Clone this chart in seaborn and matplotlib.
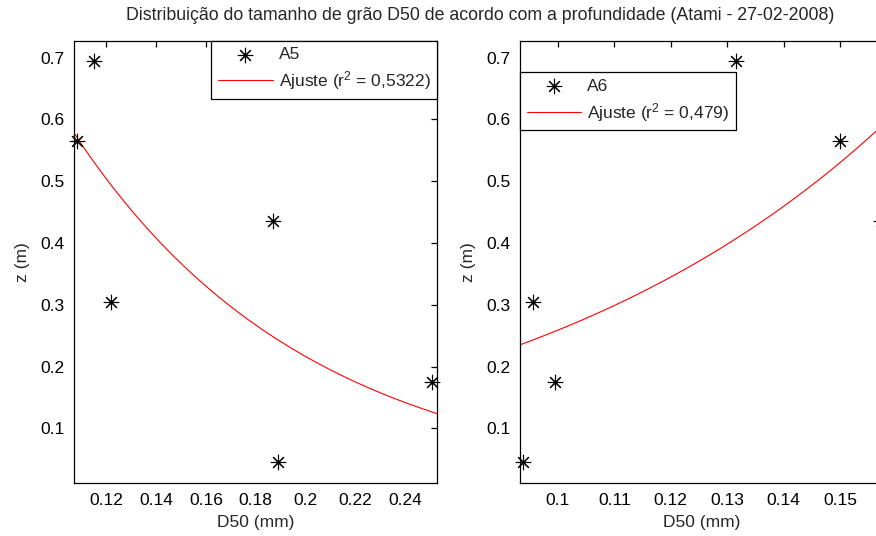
import numpy as np
import pandas as pd
import matplotlib
matplotlib.use("Agg")
import matplotlib.pyplot as plt
from matplotlib.ticker import FixedLocator, FuncFormatter
import seaborn as sns

# Depth of each sample (m) and median grain size D50 (mm) at stations A5 and A6
depth = [0.695, 0.565, 0.435, 0.305, 0.175, 0.045]
d50_a5 = [0.1151, 0.1081, 0.1868, 0.1219, 0.2508, 0.1888]
d50_a6 = [0.1316, 0.1500, 0.1572, 0.0956, 0.0995, 0.0939]

# Exponential fit z = a * exp(b * D50) for each station
fit_a5 = (1.789, -10.56)
fit_a6 = (0.0617, 14.34)
r2_a5 = "0,5322"
r2_a6 = "0,479"

# Axis ranges and ticks
xlim_a5 = (0.107, 0.2529)
xlim_a6 = (0.0933, 0.1576)
ylim = (0.011, 0.7275)
xticks_a5 = [0.12, 0.14, 0.16, 0.18, 0.20, 0.22, 0.24]
xticks_a6 = [0.10, 0.11, 0.12, 0.13, 0.14, 0.15]
yticks = [0.1, 0.2, 0.3, 0.4, 0.5, 0.6, 0.7]

title = "Distribuição do tamanho de grão D50 de acordo com a profundidade (Atami - 27-02-2008)"

sns.set_style("white")
plt.rcParams["font.family"] = ["Liberation Sans", "DejaVu Sans"]
plt.rcParams["mathtext.fontset"] = "custom"
plt.rcParams["mathtext.rm"] = "Liberation Sans"
plt.rcParams["mathtext.default"] = "regular"

FS = 12.5
W, H = 876, 536
fig = plt.figure(figsize=(W / 100, H / 100), dpi=100)
fig.patch.set_facecolor("white")

ax_w = 363 / W
ax_b = (H - 483.3) / H
ax_h = 442.6 / H
ax1 = fig.add_axes([74 / W, ax_b, ax_w, ax_h])
ax2 = fig.add_axes([520 / W, ax_b, ax_w, ax_h])

asterisk = (8, 2, 0)


def draw_panel(ax, d50, fit, xlim, xticks, name, r2, legend_loc, legend_anchor):
    pts = pd.DataFrame({"D50": d50, "z": depth})
    sns.scatterplot(data=pts, x="D50", y="z", ax=ax, marker=asterisk, s=110,
                    color="black", linewidth=0.8, legend=False, zorder=3,
                    clip_on=False)
    a, b = fit
    xs = np.linspace(xlim[0], xlim[1], 300)
    curve = pd.DataFrame({"D50": xs, "z": a * np.exp(b * xs)})
    sns.lineplot(data=curve, x="D50", y="z", ax=ax, color="red", linewidth=0.8,
                 legend=False, zorder=2)
    ax.set_xlim(*xlim)
    ax.set_ylim(*ylim)
    ax.xaxis.set_major_locator(FixedLocator(xticks))
    ax.yaxis.set_major_locator(FixedLocator(yticks))
    fmt = FuncFormatter(lambda v, p: f"{v:g}")
    ax.xaxis.set_major_formatter(fmt)
    ax.yaxis.set_major_formatter(fmt)
    ax.tick_params(direction="in", length=4.5, width=0.9, top=True, right=True,
                   labelsize=FS, colors="black", pad=7)
    for sp in ax.spines.values():
        sp.set_visible(True)
        sp.set_color("black")
        sp.set_linewidth(0.9)
    ax.set_xlabel("D50 (mm)", fontsize=FS, labelpad=5)
    ax.set_ylabel("z (m)", fontsize=FS, labelpad=7)
    handles = [ax.collections[0], ax.lines[0]]
    labels = [name, f"Ajuste (r$^{{2}}$ = {r2})"]
    leg = ax.legend(handles, labels, loc=legend_loc, bbox_to_anchor=legend_anchor,
                    borderaxespad=0, fontsize=FS, frameon=True, fancybox=False,
                    edgecolor="black", framealpha=1, handlelength=3.15,
                    handletextpad=0.35, borderpad=0.38, labelspacing=0.38,
                    scatterpoints=1)
    leg.get_frame().set_linewidth(0.9)


draw_panel(ax1, d50_a5, fit_a5, xlim_a5, xticks_a5, "A5", r2_a5,
           "upper right", (1, 1))
draw_panel(ax2, d50_a6, fit_a6, xlim_a6, xticks_a6, "A6", r2_a6,
           "upper left", (0, (483.3 - 72.3) / 442.6))

fig.text(480 / W, 1 - 16 / H, title, ha="center", va="center", fontsize=12.8)

fig.savefig("out.png", dpi=100)
